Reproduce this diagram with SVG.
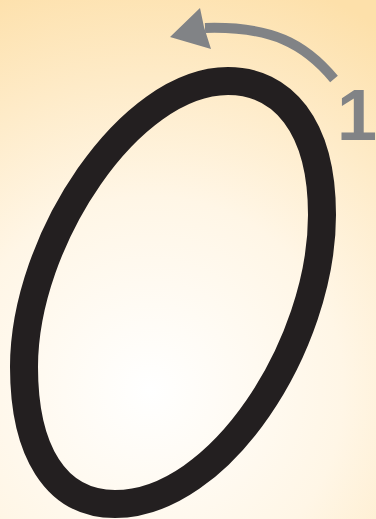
<svg xmlns="http://www.w3.org/2000/svg" width="376" height="519" viewBox="0 0 376 519">
<defs>
<radialGradient id="bg" cx="150" cy="390" r="430" gradientUnits="userSpaceOnUse">
<stop offset="0" stop-color="#ffffff"/>
<stop offset="0.45" stop-color="#fff6e6"/>
<stop offset="1" stop-color="#fde0aa"/>
</radialGradient>
<style>
.zero{fill:none;stroke:#231f20;stroke-width:28}
.arrow{fill:none;stroke:#818386;stroke-width:10}
.head{fill:#818386}
.num{fill:#818386;font-family:"Liberation Sans",Arial,sans-serif;font-weight:bold;font-size:72px}
</style>
</defs>
<rect width="376" height="519" fill="url(#bg)"/>
<g id="digit">
<path class="zero" d="M228,81 C282,81 322,125 322,215 C322,345 220,504 115,504 C55,504 24,450 24,367 C24,240 130,81 228,81 Z"/>
</g>
<g id="stroke-arrow">
<path class="arrow" d="M334,79 C305,44 272,26 205,28"/>
<polygon class="head" points="170,37 200,8 204,27 211,49"/>
</g>
<g id="label">
<text class="num" x="337" y="140">1</text>
</g>
</svg>
